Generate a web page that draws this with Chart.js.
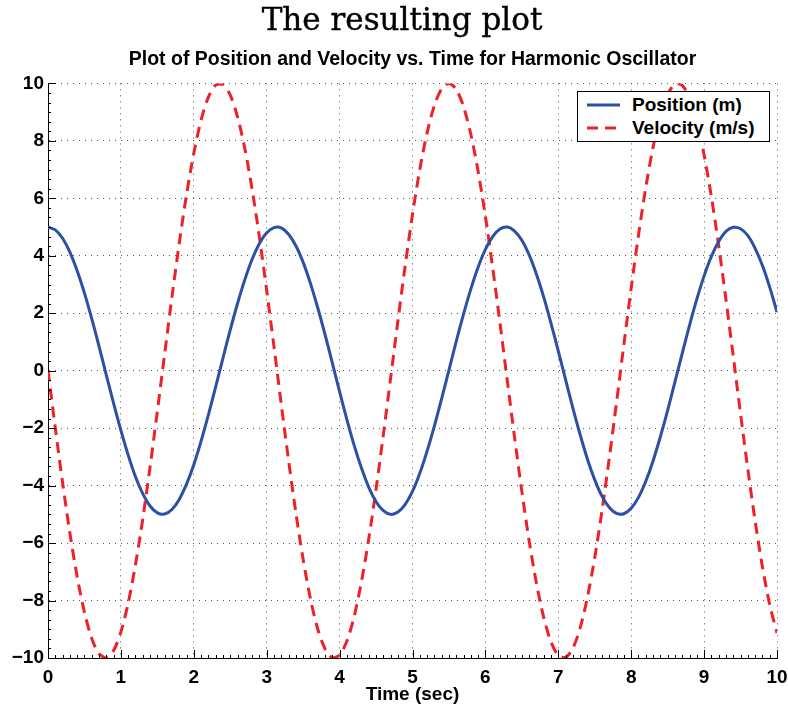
<!DOCTYPE html>
<html>
<head>
<meta charset="utf-8">
<script src="https://cdn.jsdelivr.net/npm/chart.js@4.4.1/dist/chart.umd.min.js"></script>
<style>
  html, body { margin: 0; padding: 0; background: #fff; }
  #wrap { position: relative; width: 788px; height: 706px; }
  #pageTitle {
    position: absolute; left: 8px; top: 1px; width: 788px; height: 36px;
    text-align: center; line-height: 36px;
    font-family: "DejaVu Serif", "Liberation Serif", serif; font-size: 31px; color: #000;
    -webkit-text-stroke: 0.4px #000;
  }
  #plot { position: absolute; left: 0; top: 0; }
  #legend {
    position: absolute; left: 577px; top: 91px; width: 191px; height: 48px;
    border: 1px solid #000; background: #fff; padding-top: 1px; box-sizing: content-box;
    font-family: "Liberation Sans", Arial, Helvetica, sans-serif; font-weight: bold; font-size: 19px;
  }
  #legend .row { height: 23px; line-height: 23px; display: flex; align-items: center; }
  #legend svg { margin-left: 9px; margin-right: 12px; }
</style>
</head>
<body>
<div id="wrap">
  <canvas id="plot" width="788" height="706"></canvas>
  <div id="pageTitle">The resulting plot</div>
  <div id="legend"></div>
</div>
<script>
// sample times (sec)
const times = [
  0.0, 0.1, 0.2, 0.3, 0.4, 0.5, 0.6, 0.7, 0.8, 0.9,
  1.0, 1.1, 1.2, 1.3, 1.4, 1.5, 1.6, 1.7, 1.8, 1.9,
  2.0, 2.1, 2.2, 2.3, 2.4, 2.5, 2.6, 2.7, 2.8, 2.9,
  3.0, 3.1, 3.2, 3.3, 3.4, 3.5, 3.6, 3.7, 3.8, 3.9,
  4.0, 4.1, 4.2, 4.3, 4.4, 4.5, 4.6, 4.7, 4.8, 4.9,
  5.0, 5.1, 5.2, 5.3, 5.4, 5.5, 5.6, 5.7, 5.8, 5.9,
  6.0, 6.1, 6.2, 6.3, 6.4, 6.5, 6.6, 6.7, 6.8, 6.9,
  7.0, 7.1, 7.2, 7.3, 7.4, 7.5, 7.6, 7.7, 7.8, 7.9,
  8.0, 8.1, 8.2, 8.3, 8.4, 8.5, 8.6, 8.7, 8.8, 8.9,
  9.0, 9.1, 9.2, 9.3, 9.4, 9.5, 9.6, 9.7, 9.8, 9.9,
  10.0
];

// position (m)
const position = [
  5.00, 4.90, 4.61, 4.13, 3.48, 2.70, 1.81, 0.85, -0.15, -1.14,
  -2.08, -2.94, -3.69, -4.28, -4.71, -4.95, -4.99, -4.83, -4.48, -3.95,
  -3.27, -2.45, -1.54, -0.56, 0.44, 1.42, 2.34, 3.17, 3.88, 4.43,
  4.80, 4.98, 4.97, 4.75, 4.35, 3.77, 3.04, 2.19, 1.26, 0.27,
  -0.73, -1.70, -2.60, -3.39, -4.06, -4.56, -4.87, -5.00, -4.92, -4.65,
  -4.20, -3.57, -2.80, -1.93, -0.97, 0.02, 1.02, 1.97, 2.84, 3.60,
  4.22, 4.67, 4.93, 5.00, 4.86, 4.54, 4.03, 3.36, 2.56, 1.65,
  0.68, -0.31, -1.30, -2.23, -3.08, -3.80, -4.37, -4.76, -4.97, -4.98,
  -4.79, -4.41, -3.85, -3.14, -2.30, -1.38, -0.39, 0.60, 1.58, 2.49,
  3.30, 3.98, 4.50, 4.85, 4.99, 4.94, 4.70, 4.26, 3.66, 2.91,
  2.04
];

// velocity (m/s)
const velocity = [
  0.00, -1.99, -3.89, -5.65, -7.17, -8.41, -9.32, -9.85, -10.00, -9.74,
  -9.09, -8.09, -6.75, -5.16, -3.35, -1.41, 0.58, 2.56, 4.43, 6.12,
  7.57, 8.72, 9.52, 9.94, 9.96, 9.59, 8.83, 7.73, 6.31, 4.65,
  2.79, 0.83, -1.17, -3.12, -4.94, -6.57, -7.94, -8.99, -9.68, -9.99,
  -9.89, -9.41, -8.55, -7.34, -5.85, -4.12, -2.23, -0.25, 1.74, 3.66,
  5.44, 7.00, 8.28, 9.23, 9.81, 10.00, 9.79, 9.19, 8.23, 6.94,
  5.37, 3.58, 1.66, -0.34, -2.32, -4.20, -5.92, -7.40, -8.59, -9.44,
  -9.91, -9.98, -9.66, -8.95, -7.88, -6.50, -4.86, -3.03, -1.08, 0.92,
  2.88, 4.72, 6.38, 7.78, 8.88, 9.61, 9.97, 9.93, 9.49, 8.67,
  7.51, 6.05, 4.35, 2.47, 0.50, -1.50, -3.43, -5.23, -6.82, -8.14,
  -9.13
];

const seriesLabels = ['Position (m)', 'Velocity (m/s)'];
const xRange = [0, 10];
const yRange = [-10, 10];

const fontFamily = '"Liberation Sans", Arial, Helvetica, sans-serif';
const blue = '#2b50a4';
const red = '#ee2028';
const velDash = [11, 7];

// MATLAB style ticks that point into the axes, major + minor
const innerTicks = {
  id: 'innerTicks',
  afterLayout(chart) {
    // center the plot title over the axes, not the whole canvas
    const t = chart.titleBlock;
    if (t) {
      t.left = chart.chartArea.left;
      t.right = chart.chartArea.right;
    }
  },
  afterDraw(chart) {
    const { ctx, chartArea: a, scales: { x, y } } = chart;
    ctx.save();
    ctx.strokeStyle = '#000';
    ctx.lineWidth = 1;
    ctx.beginPath();
    for (let i = 0; i <= 100; i++) {
      const px = Math.round(x.getPixelForValue(i / 10)) + 0.5;
      const len = i % 10 === 0 ? 8 : 3;
      ctx.moveTo(px, a.bottom);
      ctx.lineTo(px, a.bottom - len);
    }
    for (let i = 0; i <= 60; i++) {
      const py = Math.round(y.getPixelForValue(-10 + i / 3)) + 0.5;
      const len = i % 6 === 0 ? 8 : 3;
      ctx.moveTo(a.left, py);
      ctx.lineTo(a.left + len, py);
    }
    ctx.stroke();
    ctx.restore();
  }
};

const chart = new Chart(document.getElementById('plot'), {
  type: 'line',
  data: {
    datasets: [
      {
        label: seriesLabels[0],
        data: times.map((t, i) => ({ x: t, y: position[i] })),
        borderColor: blue,
        borderWidth: 3,
        pointRadius: 0,
        tension: 0.3
      },
      {
        label: seriesLabels[1],
        data: times.map((t, i) => ({ x: t, y: velocity[i] })),
        borderColor: red,
        borderWidth: 3,
        borderDash: velDash,
        pointRadius: 0,
        tension: 0.3
      }
    ]
  },
  options: {
    responsive: false,
    animation: false,
    devicePixelRatio: 1,
    layout: { padding: { left: 0, right: 11, top: 0, bottom: 0 } },
    plugins: {
      legend: { display: false },
      tooltip: { enabled: false },
      title: {
        display: true,
        text: 'Plot of Position and Velocity vs. Time for Harmonic Oscillator',
        color: '#000',
        font: { family: fontFamily, size: 19.5, weight: 'bold' },
        padding: { top: 48, bottom: 12 }
      }
    },
    scales: {
      x: {
        type: 'linear',
        min: xRange[0],
        max: xRange[1],
        afterFit(s) {
          s.height = 48;
          s.paddingLeft = 0;
          s.paddingRight = 0;
        },
        ticks: {
          stepSize: 1,
          color: '#000',
          padding: 8,
          maxRotation: 0,
          font: { family: fontFamily, size: 19, weight: 'bold' }
        },
        grid: { color: '#555', lineWidth: 1, drawTicks: false },
        border: { display: true, color: '#000', width: 1, dash: [1, 5] },
        title: {
          display: true,
          text: 'Time (sec)',
          color: '#000',
          font: { family: fontFamily, size: 19, weight: 'bold' },
          padding: { top: 0, bottom: 0 }
        }
      },
      y: {
        min: yRange[0],
        max: yRange[1],
        afterFit(s) { s.width = 48; },
        ticks: {
          stepSize: 2,
          color: '#000',
          padding: 4,
          font: { family: fontFamily, size: 19, weight: 'bold' },
          callback: (v) => String(v).replace('-', '\u2212')
        },
        grid: { color: '#555', lineWidth: 1, drawTicks: false },
        border: { display: true, color: '#000', width: 1, dash: [1, 5] }
      }
    }
  },
  plugins: [innerTicks]
});

// html legend, built from the chart's datasets
const legendEl = document.getElementById('legend');
chart.data.datasets.forEach((ds) => {
  const row = document.createElement('div');
  row.className = 'row';
  const dash = ds.borderDash ? ds.borderDash.join(' ') : 'none';
  row.innerHTML =
    '<svg width="33" height="6"><line x1="0" y1="3" x2="33" y2="3" stroke="' + ds.borderColor +
    '" stroke-width="3" stroke-dasharray="' + dash + '"/></svg><span>' + ds.label + '</span>';
  legendEl.appendChild(row);
});
</script>
</body>
</html>
